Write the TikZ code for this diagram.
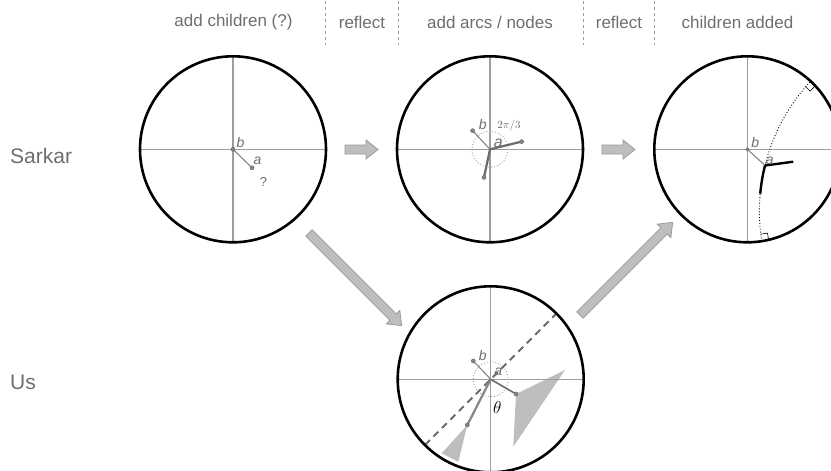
\documentclass[tikz,border=0pt]{standalone}
\usepackage{fontspec}
\setmainfont{Liberation Sans}
\usetikzlibrary{calc}
\definecolor{txt}{HTML}{6E6E6E}
\definecolor{axis}{HTML}{9E9E9E}
\definecolor{edge}{HTML}{858585}
\definecolor{edgedk}{HTML}{6A6A6A}
\definecolor{afill}{HTML}{BEBEBE}
\definecolor{aline}{HTML}{9C9C9C}
\newcommand\blockarr[4]{%
  \begin{scope}[shift={(#1,#2)},rotate=#3]
    \path[barrow] (0,-4.5) -- ({#4-12},-4.5) -- ({#4-12},-9.5) -- (#4,0)
      -- ({#4-12},9.5) -- ({#4-12},4.5) -- (0,4.5) -- cycle;
  \end{scope}}
\begin{document}
\begin{tikzpicture}[x=1pt,y=-1pt,
  bnd/.style={draw=black,line width=2.6pt},
  axisl/.style={draw=axis,line width=1.1pt},
  thinedge/.style={draw=edge,line width=1.1pt},
  thickedge/.style={draw=edgedk,line width=2.2pt},
  blackedge/.style={draw=black,line width=2.4pt},
  dotc/.style={draw=axis,dotted,line width=0.9pt},
  dotnode/.style={circle,fill=edge,draw=edgedk,line width=0.5pt,inner sep=0pt,minimum size=4pt},
  lab/.style={text=txt,font=\itshape\fontsize{14}{14}\selectfont,inner sep=0pt},
  qlab/.style={text=txt,font=\fontsize{13}{13}\selectfont,inner sep=0pt},
  head/.style={text=txt,font=\fontsize{17}{17}\selectfont,inner sep=0pt},
  rowlab/.style={text=txt,font=\fontsize{21}{21}\selectfont,inner sep=0pt,anchor=west},
  sep/.style={draw=axis,dash pattern=on 3pt off 3pt,line width=0.9pt},
  barrow/.style={fill=afill,draw=aline,line width=0.8pt},
  diam/.style={draw=edgedk,line width=1.8pt,dash pattern=on 7pt off 5pt},
  wedge/.style={fill=afill,draw=none},
  rmark/.style={draw=black,line width=0.6pt}]
\clip (0,0) rectangle (831,471);
\useasboundingbox (0,0) rectangle (831,471);

% header
\node[head] (h1) at (233.5,22) {add children (?)};
\node[head] (h2) at (362,22) {reflect};
\node[head] (h3) at (490,22) {add arcs / nodes};
\node[head] (h4) at (619,22) {reflect};
\node[head] (h5) at (737.5,22) {children added};
\foreach \sx/\nm in {325/s1,398/s2,583/s3,654/s4}{
  \coordinate (\nm t) at (\sx,1);
  \coordinate (\nm b) at (\sx,45);
  \draw[sep] (\nm t) -- (\nm b);
}

% row labels
\node[rowlab] (sarkar) at (10,156) {Sarkar};
\node[rowlab] (us) at (10,382) {Us};

% ---------- circle 1 ----------
\coordinate (c1) at (233,149.3);
\draw[axisl] ($(c1)+(-93,0)$) -- ($(c1)+(93,0)$);
\draw[axisl] ($(c1)+(0,-93)$) -- ($(c1)+(0,93)$);
\draw[bnd] (c1) circle[radius=93];
\coordinate (a1) at ($(c1)+(19,18.5)$);
\draw[thinedge] (c1) -- (a1);
\node[dotnode] (b1n) at (c1) {};
\node[dotnode] (a1n) at (a1) {};
\node[lab] (b1l) at ($(c1)+(7.5,-6.5)$) {b};
\node[lab] (a1l) at ($(c1)+(24.5,12)$) {a};
\node[qlab] (q1) at ($(c1)+(30.5,32.5)$) {?};

% ---------- circle 2 ----------
\coordinate (c2) at (490,149.3);
\draw[axisl] ($(c2)+(-93,0)$) -- ($(c2)+(93,0)$);
\draw[axisl] ($(c2)+(0,-93)$) -- ($(c2)+(0,93)$);
\draw[bnd] (c2) circle[radius=93];
\draw[dotc] (c2) circle[radius=18];
\coordinate (b2) at ($(c2)+(-17.4,-18.6)$);
\coordinate (r2) at ($(c2)+(31.7,-7.7)$);
\coordinate (d2) at ($(c2)+(-6,28.1)$);
\draw[thinedge] (c2) -- (b2);
\draw[thickedge] (c2) -- (r2);
\draw[thickedge] (c2) -- (d2);
\node[dotnode] (b2n) at (b2) {};
\node[dotnode] (r2n) at (r2) {};
\node[dotnode] (d2n) at (d2) {};
\node[lab] (b2l) at ($(c2)+(-7.3,-24.5)$) {b};
\node[lab,font=\itshape\fontsize{16}{16}\selectfont] (a2l) at ($(c2)+(8.3,-6)$) {a};
\node[text=edgedk,inner sep=0pt,font=\fontsize{11}{11}\selectfont] (ang) at ($(c2)+(19,-23.5)$) {$2\pi/3$};

% ---------- circle 3 ----------
\coordinate (c3) at (747.3,149.3);
\coordinate (G) at (950.1,211.3);
\draw[axisl] ($(c3)+(-93,0)$) -- ($(c3)+(93,0)$);
\draw[axisl] ($(c3)+(0,-93)$) -- ($(c3)+(0,93)$);
\draw[bnd] (c3) circle[radius=93];
\draw[draw=black,line width=0.9pt,dotted] ($(G)+(171:190.7)$) arc[start angle=171,end angle=223,radius=190.7];
\coordinate (a3) at ($(G)+(193.9:190.7)$);
\coordinate (e3) at ($(c3)+(46,12.4)$);
\draw[thinedge] (c3) -- (a3);
\draw[blackedge] (a3) -- (e3);
\draw[blackedge] (a3) arc[start angle=193.9,end angle=185.3,radius=190.7];
\node[dotnode,minimum size=3.5pt] (b3n) at (c3) {};
\node[lab] (b3l) at ($(c3)+(8,-6.5)$) {b};
\node[lab] (a3l) at ($(c3)+(22.5,12)$) {a};
% right angle marks
\coordinate (m1) at (768.6,240.0);
\coordinate (m2) at (767.5,233.1);
\coordinate (m3) at (760.6,234.2);
\draw[rmark] (m1) -- (m2) -- (m3);
\coordinate (n1) at (815.0,86.0);
\coordinate (n2) at (810.2,91.1);
\coordinate (n3) at (805.2,86.3);
\draw[rmark] (n1) -- (n2) -- (n3);

% ---------- circle 4 ----------
\coordinate (c4) at (490.7,379.3);
\coordinate (e4) at ($(c4)+(25.3,14.7)$);
\coordinate (f4) at ($(c4)+(-23.4,45.7)$);
\coordinate (b4) at ($(c4)+(-17.4,-18.3)$);
\fill[wedge] (e4) -- (565,370) -- (513.3,446.7) -- cycle;
\fill[wedge] (f4) -- (441.7,453.3) -- (458.3,461.7) -- cycle;
\draw[axisl] ($(c4)+(-93,0)$) -- ($(c4)+(93,0)$);
\draw[axisl] ($(c4)+(0,-93)$) -- ($(c4)+(0,93)$);
\draw[dotc] (c4) circle[radius=17.5];
\draw[diam] ($(c4)+(135:93)$) -- ($(c4)+(-45:93)$);
\draw[thinedge] (c4) -- (b4);
\draw[thickedge,line width=1.6pt] (c4) -- (e4);
\draw[thickedge,draw=edge] (c4) -- (f4);
\draw[bnd] (c4) circle[radius=93];
\node[dotnode] (b4n) at (b4) {};
\node[dotnode] (e4n) at (e4) {};
\node[dotnode] (f4n) at (f4) {};
\node[lab] (b4l) at ($(c4)+(-8,-24)$) {b};
\node[lab] (a4l) at ($(c4)+(7.6,-7.6)$) {a};
\node[text=black,inner sep=0pt,font=\fontsize{18}{18}\selectfont] (th) at ($(c4)+(6.6,28)$) {$\theta$};

% ---------- block arrows ----------
\blockarr{345}{149.5}{0}{33}
\blockarr{602}{149.5}{0}{33}
\blockarr{309}{233}{-45}{131}
\blockarr{580}{315}{45}{131}
\end{tikzpicture}
\end{document}
